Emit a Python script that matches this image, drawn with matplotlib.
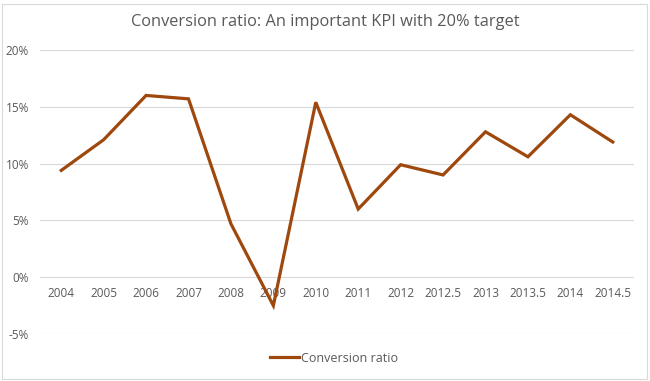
import matplotlib
matplotlib.use("Agg")
import matplotlib.pyplot as plt
from matplotlib.ticker import FuncFormatter
from matplotlib.patches import Rectangle

categories = ["2004", "2005", "2006", "2007", "2008", "2009", "2010", "2011",
              "2012", "2012.5", "2013", "2013.5", "2014", "2014.5"]
values = [9.4, 12.1, 16.0, 15.7, 4.7, -2.5, 15.4, 6.0, 9.9, 9.0, 12.8, 10.6, 14.3, 11.9]
series_name = "Conversion ratio"
title = "Conversion ratio: An important KPI with 20% target"

plt.rcParams['font.family'] = ['Open Sans', 'DejaVu Sans']
W, H = 650, 381
fig = plt.figure(figsize=(W/100, H/100), dpi=100)
fig.patches.append(Rectangle((2/W, 2/H), (647-2)/W, (377-2)/H, transform=fig.transFigure,
                             fill=False, edgecolor="#d9d9d9", lw=0.8))
ax = fig.add_axes([40/W, (H-334)/H, (634-40)/W, (334-50)/H])
x = list(range(len(categories)))
ax.plot(x, values, color="#9E480E", lw=2.3, solid_joinstyle="miter", label=series_name)
ax.set_xlim(-0.5, len(categories)-0.5)
ax.set_ylim(-5, 20)
ax.set_yticks([-5, 0, 5, 10, 15, 20])
ax.yaxis.set_major_formatter(FuncFormatter(lambda v, p: f"{v:.0f}%"))
ax.grid(axis="y", color="#d9d9d9", lw=0.8)
ax.set_axisbelow(True)
for s in ["top", "right", "left"]:
    ax.spines[s].set_visible(False)
ax.spines["bottom"].set_position(("data", 0))
ax.spines["bottom"].set_visible(False)
ax.set_xticks(x)
ax.set_xticklabels(categories)
ax.tick_params(axis="x", length=0, pad=7, labelsize=8.5, colors="#595959")
ax.tick_params(axis="y", length=0, pad=8, labelsize=8.5, colors="#595959")
fig.text(325/W, 1-22/H, title, ha="center", va="center", fontsize=11.8, color="#595959")
leg = fig.legend(loc="center", bbox_to_anchor=(334/W, 1-358/H), frameon=False,
                 fontsize=9, handlelength=2.3, handletextpad=0.2)
for t in leg.get_texts():
    t.set_color("#595959")
fig.savefig("out.png", dpi=100)
